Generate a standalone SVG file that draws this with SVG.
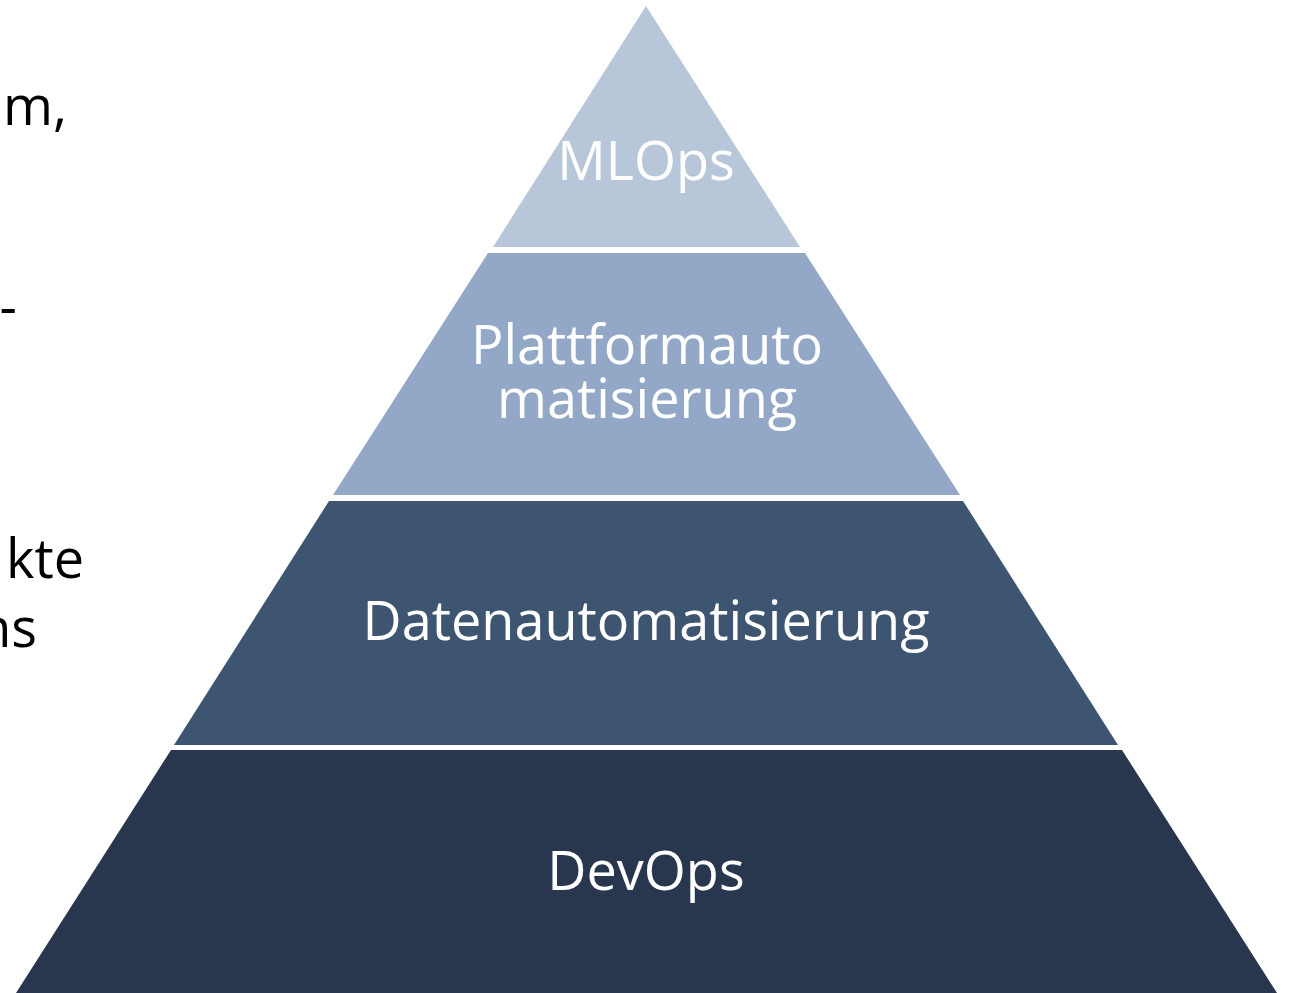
<svg xmlns="http://www.w3.org/2000/svg" width="1291" height="993" viewBox="0 0 1291 993">
  <style>
    .lbl { font-family: "Open Sans", "Noto Sans", "DejaVu Sans", sans-serif; font-size: 54px; fill: #ffffff; text-anchor: middle; }
    .side { font-family: "Open Sans", "Noto Sans", "DejaVu Sans", sans-serif; font-size: 54px; fill: #000000; text-anchor: end; }
  </style>
  <rect x="0" y="0" width="1291" height="993" fill="#ffffff"/>
  <g id="side-text">
    <text class="side" x="67" y="125">m,</text>
    <text class="side" x="17" y="326">-</text>
    <text class="side" x="84" y="578">kte</text>
    <text class="side" x="37" y="647">ns</text>
  </g>
  <g id="layer-mlops">
    <polygon points="646,6 800,247 493,247" fill="#b7c6d9"/>
    <text class="lbl" x="646" y="180">MLOps</text>
  </g>
  <g id="layer-plattform">
    <polygon points="488,253 805,253 960,495 333,495" fill="#93a8c6"/>
    <text class="lbl" x="647" y="364">Plattformauto</text>
    <text class="lbl" x="647" y="418">matisierung</text>
  </g>
  <g id="layer-daten">
    <polygon points="329,501 963,501 1118,745 174,745" fill="#3e5572"/>
    <text class="lbl" x="646" y="640" font-size="54.8">Datenautomatisierung</text>
  </g>
  <g id="layer-devops">
    <polygon points="171,750 1122,750 1277,993 16,993" fill="#29374e"/>
    <text class="lbl" x="646" y="890">DevOps</text>
  </g>
  <g id="connectors"></g>
</svg>
